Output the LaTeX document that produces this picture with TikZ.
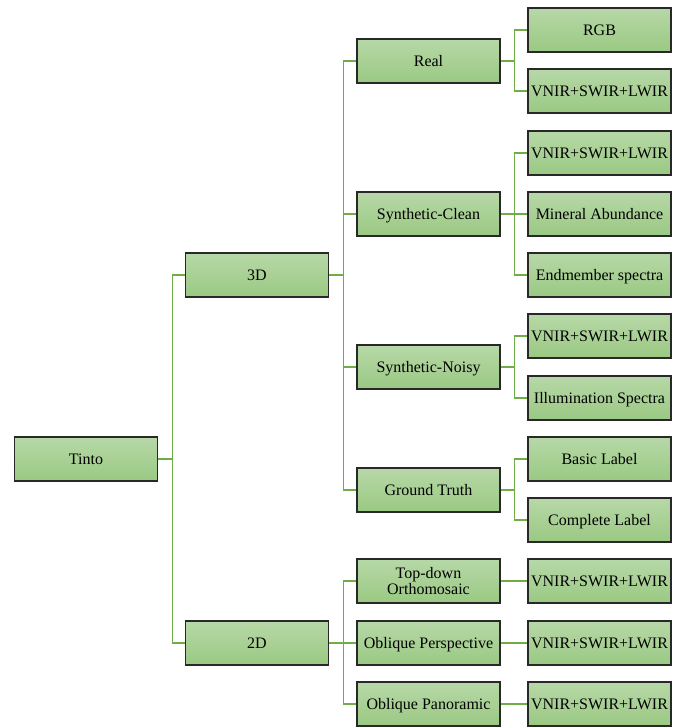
\documentclass[tikz,border=0pt]{standalone}
\usepackage{fontspec}
\setmainfont{Liberation Serif}
\definecolor{boxtop}{RGB}{183,216,167}
\definecolor{boxbot}{RGB}{154,201,131}
\definecolor{boxline}{RGB}{40,40,40}
\definecolor{conncol}{RGB}{112,173,71}
\begin{document}
\begin{tikzpicture}[x=1pt,y=-1pt,
  box/.style={draw=boxline,line width=1.3pt,top color=boxtop,bottom color=boxbot,
    minimum width=143pt,minimum height=44pt,inner sep=1pt,align=center,
    text height=10.5pt,text depth=0pt,
    font=\fontsize{16}{15.5}\selectfont},
  twoline/.style={text height=,text depth=},
  conn/.style={draw=conncol,line width=1.3pt}]
\useasboundingbox (0,0) rectangle (683,728);
% level 0
\node[box] (tinto) at (86,459) {Tinto};
% level 1
\node[box] (d3) at (257,275) {3D};
\node[box] (d2) at (257,643) {2D};
% level 2
\node[box] (real) at (428.5,61) {Real};
\node[box] (sclean) at (428.5,214) {Synthetic-Clean};
\node[box] (snoisy) at (428.5,367) {Synthetic-Noisy};
\node[box] (gt) at (428.5,490) {Ground Truth};
\node[box,twoline] (topdown) at (428.5,581) {Top-down\\Orthomosaic};
\node[box] (oblp) at (428.5,643) {Oblique Perspective};
\node[box] (oblpan) at (428.5,704) {Oblique Panoramic};
% level 3
\node[box] (rgb) at (599.5,30) {RGB};
\node[box] (realv) at (599.5,91) {VNIR+SWIR+LWIR};
\node[box] (sclv) at (599.5,153) {VNIR+SWIR+LWIR};
\node[box] (mineral) at (599.5,214) {Mineral Abundance};
\node[box] (endm) at (599.5,275) {Endmember spectra};
\node[box] (snv) at (599.5,336) {VNIR+SWIR+LWIR};
\node[box] (illum) at (599.5,398) {Illumination Spectra};
\node[box] (basic) at (599.5,459) {Basic Label};
\node[box] (complete) at (599.5,520) {Complete Label};
\node[box] (tdv) at (599.5,581) {VNIR+SWIR+LWIR};
\node[box] (opv) at (599.5,643) {VNIR+SWIR+LWIR};
\node[box] (opanv) at (599.5,704) {VNIR+SWIR+LWIR};
% connectors
\draw[conn] (tinto.east) -- ++(14pt,0) coordinate (b0);
\draw[conn] (b0) |- (d3.west);
\draw[conn] (b0) |- (d2.west);
\draw[conn] (d3.east) -- ++(14pt,0) coordinate (b1);
\draw[conn] (b1) |- (real.west);
\draw[conn] (b1) |- (sclean.west);
\draw[conn] (b1) |- (snoisy.west);
\draw[conn] (b1) |- (gt.west);
\draw[conn] (d2.east) -- ++(14pt,0) coordinate (b2);
\draw[conn] (b2) |- (topdown.west);
\draw[conn] (b2) |- (oblp.west);
\draw[conn] (b2) |- (oblpan.west);
\draw[conn] (real.east) -- ++(14pt,0) coordinate (c1);
\draw[conn] (c1) |- (rgb.west);
\draw[conn] (c1) |- (realv.west);
\draw[conn] (sclean.east) -- ++(14pt,0) coordinate (c2);
\draw[conn] (c2) |- (sclv.west);
\draw[conn] (c2) |- (mineral.west);
\draw[conn] (c2) |- (endm.west);
\draw[conn] (snoisy.east) -- ++(14pt,0) coordinate (c3);
\draw[conn] (c3) |- (snv.west);
\draw[conn] (c3) |- (illum.west);
\draw[conn] (gt.east) -- ++(14pt,0) coordinate (c4);
\draw[conn] (c4) |- (basic.west);
\draw[conn] (c4) |- (complete.west);
\draw[conn] (topdown.east) -- (tdv.west);
\draw[conn] (oblp.east) -- (opv.west);
\draw[conn] (oblpan.east) -- (opanv.west);
\end{tikzpicture}
\end{document}
